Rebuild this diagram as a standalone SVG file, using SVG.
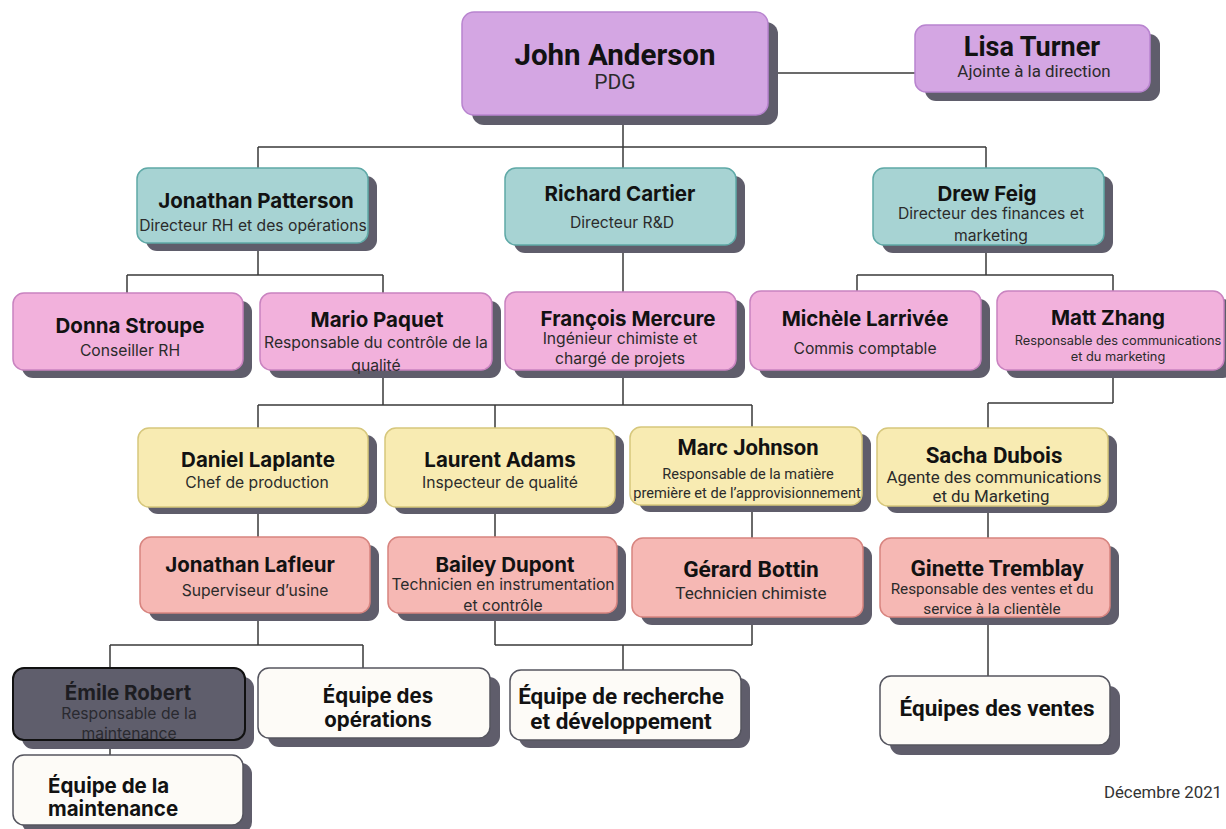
<svg xmlns="http://www.w3.org/2000/svg" width="1226" height="829" viewBox="0 0 1226 829">
<style>
.sh{fill:#5f5d6b}
.pu{fill:#d4a6e3;stroke:#b884cf;stroke-width:1.5}
.te{fill:#a7d3d3;stroke:#5fa9a7;stroke-width:1.5}
.pk{fill:#f2b1dc;stroke:#c983c0;stroke-width:1.5}
.ye{fill:#f8ebb2;stroke:#d6c77c;stroke-width:1.5}
.sa{fill:#f6b8b4;stroke:#d7847f;stroke-width:1.5}
.wh{fill:#fdfbf7;stroke:#55555f;stroke-width:1.5}
.dk{fill:#5f5e6c;stroke:#111;stroke-width:2}
.n{font-family:Inter,"Noto Sans",sans-serif;font-weight:700;font-size:20.5px;fill:#121212;text-anchor:middle}
.s{font-family:Inter,"Noto Sans",sans-serif;font-size:15.7px;fill:#2b2b2b;text-anchor:middle}
.sm{font-family:Inter,"Noto Sans",sans-serif;font-size:12.8px;fill:#2b2b2b;text-anchor:middle}
.rn{font-family:Roboto,"Liberation Sans",sans-serif;font-weight:700;font-size:22.5px;fill:#121212;text-anchor:middle}
.rs{font-family:Roboto,"Liberation Sans",sans-serif;font-size:16.9px;fill:#2b2b2b;text-anchor:middle}
.c{fill:none;stroke:#3a3a3a;stroke-width:1.5}
</style>

<g id="connectors" class="c">
<path d="M768 73H915"/>
<path d="M623 115V147M258 147H986M258 147V168M623 147V168M986 147V168"/>
<path d="M258 243V275M127 275H383M127 275V293M383 275V293"/>
<path d="M623 245V292"/>
<path d="M986 245V275M857 275H1113M857 275V291M1113 275V291"/>
<path d="M383 370V405M623 370V405M258 405H752M258 405V428M495 405V428M752 405V427"/>
<path d="M1113 370V403M988 403H1113M988 403V428"/>
<path d="M258 507V537M495 507V537M752 505V538M988 506V538"/>
<path d="M258 613V645M110 645H363M110 645V668M363 645V668"/>
<path d="M495 613V645M752 617V645M495 645H752M623 645V670"/>
<path d="M988 617V676"/>
<path d="M110 740V755"/>
</g>

<g id="john-anderson">
<rect class="sh" x="472" y="22" width="306" height="103" rx="12"/>
<rect class="pu" x="462" y="12" width="306" height="103" rx="12"/>
<text class="rn" x="615" y="65" style="font-size:29.5px">John Anderson</text>
<text class="rs" x="615" y="89" style="font-size:21px">PDG</text>
</g>

<g id="lisa-turner">
<rect class="sh" x="925" y="34" width="235" height="67" rx="11"/>
<rect class="pu" x="915" y="25" width="235" height="67" rx="11"/>
<text class="rn" x="1032" y="56" style="font-size:27px">Lisa Turner</text>
<text class="rs" x="1034" y="77">Ajointe à la direction</text>
</g>

<g id="jonathan-patterson">
<rect class="sh" x="146" y="176" width="231" height="75" rx="11"/>
<rect class="te" x="137" y="168" width="231" height="75" rx="11"/>
<text class="n" x="256" y="207.5">Jonathan Patterson</text>
<text class="s" x="253" y="230.7">Directeur RH et des opérations</text>
</g>

<g id="richard-cartier">
<rect class="sh" x="514" y="176" width="231" height="77" rx="11"/>
<rect class="te" x="505" y="168" width="231" height="77" rx="11"/>
<text class="n" x="620" y="200.5">Richard Cartier</text>
<text class="s" x="622" y="227.7">Directeur R&amp;D</text>
</g>

<g id="drew-feig">
<rect class="sh" x="882" y="176" width="231" height="77" rx="11"/>
<rect class="te" x="873" y="168" width="231" height="77" rx="11"/>
<text class="n" x="987" y="200.5">Drew Feig</text>
<text class="s" x="991" y="218.7">Directeur des finances et</text>
<text class="s" x="991" y="240.7">marketing</text>
</g>

<g id="donna-stroupe">
<rect class="sh" x="22" y="301" width="230" height="77" rx="11"/>
<rect class="pk" x="13" y="293" width="230" height="77" rx="11"/>
<text class="n" x="130" y="332.5">Donna Stroupe</text>
<text class="s" x="130" y="355.7">Conseiller RH</text>
</g>

<g id="mario-paquet">
<rect class="sh" x="269" y="301" width="232" height="77" rx="11"/>
<rect class="pk" x="260" y="293" width="232" height="77" rx="11"/>
<text class="n" x="377" y="326.5">Mario Paquet</text>
<text class="s" x="376" y="347.7">Responsable du contrôle de la</text>
<text class="s" x="376" y="370.7">qualité</text>
</g>

<g id="francois-mercure">
<rect class="sh" x="514" y="300" width="231" height="78" rx="11"/>
<rect class="pk" x="505" y="292" width="231" height="78" rx="11"/>
<text class="n" x="628" y="325.5">François Mercure</text>
<text class="s" x="620" y="343.7">Ingénieur chimiste et</text>
<text class="s" x="620" y="363.7">chargé de projets</text>
</g>

<g id="michele-larrivee">
<rect class="sh" x="759" y="299" width="231" height="79" rx="11"/>
<rect class="pk" x="750" y="291" width="231" height="79" rx="11"/>
<text class="n" x="865" y="325.5">Michèle Larrivée</text>
<text class="s" x="865" y="353.7">Commis comptable</text>
</g>

<g id="matt-zhang">
<rect class="sh" x="1006" y="299" width="228" height="79" rx="11"/>
<rect class="pk" x="997" y="291" width="227" height="79" rx="11"/>
<text class="n" x="1108" y="324.5">Matt Zhang</text>
<text class="sm" x="1118" y="344.5">Responsable des communications</text>
<text class="sm" x="1118" y="360.5">et du marketing</text>
</g>

<g id="daniel-laplante">
<rect class="sh" x="147" y="435" width="230" height="79" rx="11"/>
<rect class="ye" x="138" y="428" width="230" height="79" rx="11"/>
<text class="n" x="258" y="466.5">Daniel Laplante</text>
<text class="s" x="257" y="487.7">Chef de production</text>
</g>

<g id="laurent-adams">
<rect class="sh" x="394" y="435" width="230" height="79" rx="11"/>
<rect class="ye" x="385" y="428" width="230" height="79" rx="11"/>
<text class="n" x="500" y="466.5">Laurent Adams</text>
<text class="s" x="500" y="487.7">Inspecteur de qualité</text>
</g>

<g id="marc-johnson">
<rect class="sh" x="639" y="434" width="232" height="78" rx="11"/>
<rect class="ye" x="630" y="427" width="232" height="78" rx="11"/>
<text class="rn" x="748" y="455" style="font-size:22px">Marc Johnson</text>
<text class="rs" x="748" y="479" style="font-size:14.6px">Responsable de la matière</text>
<text class="rs" x="747" y="498" style="font-size:14.6px">première et de l’approvisionnement</text>
</g>

<g id="sacha-dubois">
<rect class="sh" x="886" y="435" width="231" height="78" rx="11"/>
<rect class="ye" x="877" y="428" width="231" height="78" rx="11"/>
<text class="rn" x="994" y="463" style="font-size:22.3px">Sacha Dubois</text>
<text class="rs" x="994" y="483">Agente des communications</text>
<text class="rs" x="991" y="502">et du Marketing</text>
</g>

<g id="jonathan-lafleur">
<rect class="sh" x="149" y="545" width="230" height="76" rx="11"/>
<rect class="sa" x="140" y="537" width="230" height="76" rx="11"/>
<text class="n" x="250" y="571.5">Jonathan Lafleur</text>
<text class="s" x="255" y="595.7">Superviseur d’usine</text>
</g>

<g id="bailey-dupont">
<rect class="sh" x="397" y="545" width="229" height="76" rx="11"/>
<rect class="sa" x="388" y="537" width="229" height="76" rx="11"/>
<text class="n" x="505" y="571.5">Bailey Dupont</text>
<text class="s" x="503" y="589.7">Technicien en instrumentation</text>
<text class="s" x="503" y="610.7">et contrôle</text>
</g>

<g id="gerard-bottin">
<rect class="sh" x="641" y="546" width="231" height="79" rx="11"/>
<rect class="sa" x="632" y="538" width="231" height="79" rx="11"/>
<text class="rn" x="751" y="577" style="font-size:22.7px">Gérard Bottin</text>
<text class="rs" x="751" y="599" style="font-size:17.1px">Technicien chimiste</text>
</g>

<g id="ginette-tremblay">
<rect class="sh" x="889" y="546" width="230" height="79" rx="11"/>
<rect class="sa" x="880" y="538" width="230" height="79" rx="11"/>
<text class="rn" x="997" y="576" style="font-size:22.5px">Ginette Tremblay</text>
<text class="rs" x="992" y="594" style="font-size:15.3px">Responsable des ventes et du</text>
<text class="rs" x="992" y="614" style="font-size:15.3px">service à la clientèle</text>
</g>

<g id="emile-robert">
<rect class="sh" x="22" y="677" width="232" height="72" rx="11"/>
<rect class="dk" x="13" y="668" width="232" height="72" rx="11"/>
<text class="n" x="128" y="699.5" style="fill:#1d1d22">Émile Robert</text>
<text class="s" x="129" y="718.7" style="fill:#2a2a30">Responsable de la</text>
<text class="s" x="129" y="738.7" style="fill:#2a2a30">maintenance</text>
</g>

<g id="equipe-operations">
<rect class="sh" x="268" y="677" width="232" height="70" rx="11"/>
<rect class="wh" x="258" y="668" width="232" height="70" rx="11"/>
<text class="n" x="378" y="702.5">Équipe des</text>
<text class="n" x="378" y="726.5">opérations</text>
</g>

<g id="equipe-rd">
<rect class="sh" x="519" y="678" width="231" height="70" rx="11"/>
<rect class="wh" x="510" y="670" width="231" height="70" rx="11"/>
<text class="rn" x="621" y="704">Équipe de recherche</text>
<text class="rn" x="621" y="729">et développement</text>
</g>

<g id="equipes-ventes">
<rect class="sh" x="890" y="686" width="230" height="69" rx="11"/>
<rect class="wh" x="880" y="676" width="230" height="69" rx="11"/>
<text class="rn" x="997" y="716">Équipes des ventes</text>
</g>

<g id="equipe-maintenance">
<rect class="sh" x="22" y="763" width="230" height="70" rx="11"/>
<rect class="wh" x="13" y="755" width="230" height="70" rx="11"/>
<text class="n" x="48" y="792.5" style="text-anchor:start">Équipe de la</text>
<text class="n" x="48" y="815.5" style="text-anchor:start">maintenance</text>
</g>

<text x="1222" y="798" font-family="Roboto, 'Liberation Sans', sans-serif" font-size="16.8px" fill="#333" text-anchor="end">Décembre 2021</text>
</svg>
